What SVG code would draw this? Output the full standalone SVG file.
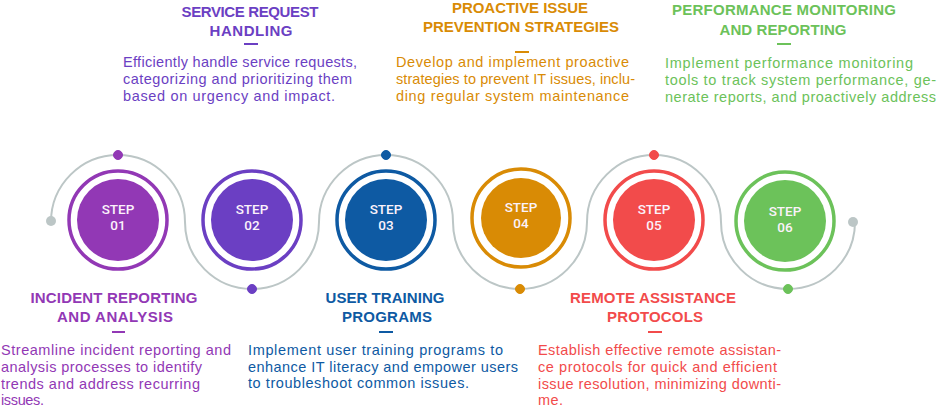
<svg xmlns="http://www.w3.org/2000/svg" width="941" height="414" viewBox="0 0 941 414">
<style>
.t{font-family:"Liberation Sans",Arial,sans-serif;font-weight:bold;font-size:15px;text-anchor:middle}
.b{font-family:"Liberation Sans",Arial,sans-serif;font-size:14.5px}
.s{font-family:Roboto,"Liberation Sans",Arial,sans-serif;font-weight:500;font-size:13.5px;fill:#fbf2fb;text-anchor:middle}
.ring{fill:none;stroke-width:3.5}
.c1{fill:#9238B5;stroke:#9238B5}
.c2{fill:#6B3FC3;stroke:#6B3FC3}
.c3{fill:#0E5AA3;stroke:#0E5AA3}
.c4{fill:#D98B05;stroke:#D98B05}
.c5{fill:#F24B4B;stroke:#F24B4B}
.c6{fill:#6CC25A;stroke:#6CC25A}
.dash{stroke-width:2}
</style>
<rect width="941" height="414" fill="#fff"/>
<g id="connectors">
<path d="M51 222 A67 67 0 0 1 185 222 A67 67 0 0 0 319 222 A67 67 0 0 1 453 222 A67 67 0 0 0 587 222 A67 67 0 0 1 721 222 A67 67 0 0 0 855 222" fill="none" stroke="#BCC6C6" stroke-width="2"/>
<circle cx="51" cy="221" r="5" fill="#BCC6C6"/>
<circle cx="853" cy="222" r="5" fill="#BCC6C6"/>
<circle cx="118" cy="155" r="4.5" class="c1"/>
<circle cx="252" cy="289" r="4.5" class="c2"/>
<circle cx="386" cy="155" r="4.5" class="c3"/>
<circle cx="520" cy="289" r="4.5" class="c4"/>
<circle cx="654" cy="155" r="4.5" class="c5"/>
<circle cx="788" cy="289" r="4.5" class="c6"/>
</g>
<g id="step1">
<circle cx="118" cy="220" r="49" class="ring c1" style="fill:none"/>
<circle cx="118" cy="220" r="41" class="c1" style="stroke:none"/>
<text class="s" x="118" y="214">STEP</text><text class="s" x="118" y="230">01</text>
<text class="t c1" style="stroke:none" x="114" y="303" textLength="167">INCIDENT REPORTING</text>
<text class="t c1" style="stroke:none" x="115" y="322" textLength="116">AND ANALYSIS</text>
<line x1="112" y1="332" x2="125" y2="332" class="dash c1"/>
<text class="b c1" style="stroke:none"><tspan x="1" y="355" textLength="230">Streamline incident reporting and</tspan><tspan x="1" y="372" textLength="201">analysis processes to identify</tspan><tspan x="1" y="389" textLength="199">trends and address recurring</tspan><tspan x="1" y="405" textLength="43">issues.</tspan></text>
</g>
<g id="step2">
<circle cx="252" cy="220" r="49" class="ring c2" style="fill:none"/>
<circle cx="252" cy="220" r="41" class="c2" style="stroke:none"/>
<text class="s" x="252" y="214">STEP</text><text class="s" x="252" y="230">02</text>
<text class="t c2" style="stroke:none" x="250" y="17" textLength="137">SERVICE REQUEST</text>
<text class="t c2" style="stroke:none" x="251" y="36" textLength="83">HANDLING</text>
<line x1="244" y1="44" x2="258" y2="44" class="dash c2"/>
<text class="b c2" style="stroke:none"><tspan x="123" y="67" textLength="234">Efficiently handle service requests,</tspan><tspan x="123" y="84" textLength="229">categorizing and prioritizing them</tspan><tspan x="123" y="101" textLength="212">based on urgency and impact.</tspan></text>
</g>
<g id="step3">
<circle cx="386" cy="220" r="49" class="ring c3" style="fill:none"/>
<circle cx="386" cy="220" r="41" class="c3" style="stroke:none"/>
<text class="s" x="386" y="214">STEP</text><text class="s" x="386" y="230">03</text>
<text class="t c3" style="stroke:none" x="385" y="303" textLength="119">USER TRAINING</text>
<text class="t c3" style="stroke:none" x="387" y="322" textLength="90">PROGRAMS</text>
<line x1="379" y1="332" x2="393" y2="332" class="dash c3"/>
<text class="b c3" style="stroke:none"><tspan x="248" y="355" textLength="255">Implement user training programs to</tspan><tspan x="248" y="372" textLength="270">enhance IT literacy and empower users</tspan><tspan x="248" y="388" textLength="221">to troubleshoot common issues.</tspan></text>
</g>
<g id="step4">
<circle cx="521" cy="218" r="49" class="ring c4" style="fill:none"/>
<circle cx="521" cy="218" r="40" class="c4" style="stroke:none"/>
<text class="s" x="521" y="212">STEP</text><text class="s" x="521" y="228">04</text>
<text class="t c4" style="stroke:none" x="520" y="13" textLength="136">PROACTIVE ISSUE</text>
<text class="t c4" style="stroke:none" x="521" y="32" textLength="196">PREVENTION STRATEGIES</text>
<line x1="515" y1="52" x2="529" y2="52" class="dash c4"/>
<text class="b c4" style="stroke:none"><tspan x="396" y="67" textLength="233">Develop and implement proactive</tspan><tspan x="396" y="84" textLength="239">strategies to prevent IT issues, inclu-</tspan><tspan x="396" y="101" textLength="233">ding regular system maintenance</tspan></text>
</g>
<g id="step5">
<circle cx="654" cy="220" r="49" class="ring c5" style="fill:none"/>
<circle cx="654" cy="220" r="41" class="c5" style="stroke:none"/>
<text class="s" x="654" y="214">STEP</text><text class="s" x="654" y="230">05</text>
<text class="t c5" style="stroke:none" x="653" y="303" textLength="166">REMOTE ASSISTANCE</text>
<text class="t c5" style="stroke:none" x="655" y="322" textLength="96">PROTOCOLS</text>
<line x1="648" y1="332" x2="662" y2="332" class="dash c5"/>
<text class="b c5" style="stroke:none"><tspan x="538" y="355" textLength="243">Establish effective remote assistan-</tspan><tspan x="538" y="372" textLength="239">ce protocols for quick and efficient</tspan><tspan x="538" y="389" textLength="243">issue resolution, minimizing downti-</tspan><tspan x="538" y="405" textLength="25">me.</tspan></text>
</g>
<g id="step6">
<circle cx="785" cy="221" r="49" class="ring c6" style="fill:none"/>
<circle cx="785" cy="221" r="41" class="c6" style="stroke:none"/>
<text class="s" x="785" y="216">STEP</text><text class="s" x="785" y="232">06</text>
<text class="t c6" style="stroke:none" x="784" y="15" textLength="224">PERFORMANCE MONITORING</text>
<text class="t c6" style="stroke:none" x="783" y="35" textLength="127">AND REPORTING</text>
<line x1="777" y1="44" x2="791" y2="44" class="dash c6"/>
<text class="b c6" style="stroke:none"><tspan x="665" y="68" textLength="248">Implement performance monitoring</tspan><tspan x="665" y="85" textLength="271">tools to track system performance, ge-</tspan><tspan x="665" y="102" textLength="271">nerate reports, and proactively address</tspan></text>
</g>
</svg>
